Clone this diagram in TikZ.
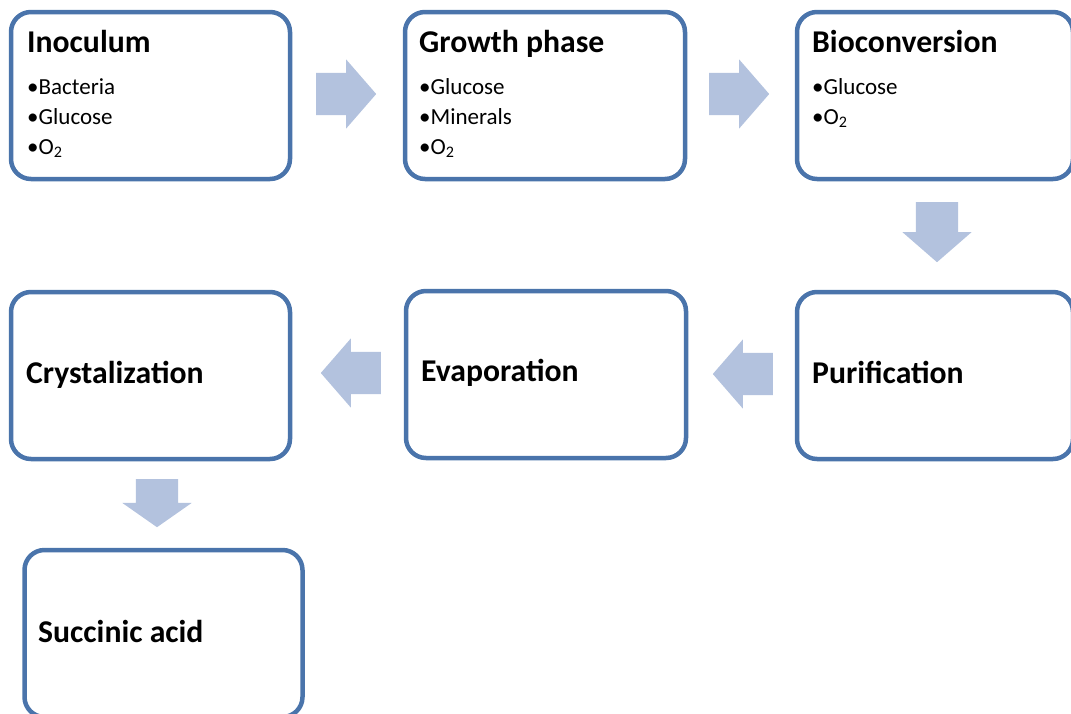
\documentclass[tikz,border=0pt]{standalone}
\usepackage{fontspec}
\setmainfont{Carlito}
\usetikzlibrary{shapes.arrows}

\definecolor{boxblue}{RGB}{74,116,171}
\definecolor{arrowblue}{RGB}{179,194,222}

\tikzset{
    stage/.style={draw=boxblue, line width=4.5pt, rounded corners=20pt,
        fill=white, minimum width=279pt, minimum height=167pt},
    stagename/.style={anchor=base west, inner sep=0pt,
        font=\fontsize{31.7}{37}\selectfont\bfseries},
    item/.style={anchor=base west, inner sep=0pt,
        font=\fontsize{23}{27}\selectfont},
    blockarrow/.style={single arrow, fill=arrowblue, draw=none,
        inner xsep=0pt, inner ysep=21pt, minimum height=60pt,
        single arrow head extend=13.5pt, single arrow tip angle=98,
        anchor=tail}
}

\begin{document}
\begin{tikzpicture}[x=1pt,y=-1pt]
                \useasboundingbox (0,0) rectangle (1071,713);
                % first row
                \node [stage] (inoculum) at (150.5, 95.5) {};
                \node [stage, minimum width=280pt] (growth) at (545, 95.5) {};
                \node [stage, minimum width=276pt] (bioconv) at (935, 95.5) {};
                % second row
                \node [stage] (crystal) at (150.5, 375.5) {};
                \node [stage, minimum width=280pt] (evap) at (546, 374.5) {};
                \node [stage, minimum width=276pt] (purif) at (935, 375.5) {};
                % last box
                \node [stage, minimum width=278pt] (succinic) at (163.5, 633.5) {};
                \node [stagename] (inoculum-t) at (27, 52) {Inoculum};
                \node [item] (inoculum-a) at (27, 94) {•Bacteria};
                \node [item] (inoculum-b) at (27, 124) {•Glucose};
                \node [item] (inoculum-c) at (27, 154) {•O\textsubscript{2}};
                \node [stagename] (growth-t) at (419, 52) {Growth phase};
                \node [item] (growth-a) at (419, 94) {•Glucose};
                \node [item] (growth-b) at (419, 124) {•Minerals};
                \node [item] (growth-c) at (419, 154) {•O\textsubscript{2}};
                \node [stagename] (bioconv-t) at (812, 52) {Bioconversion};
                \node [item] (bioconv-a) at (812, 94) {•Glucose};
                \node [item] (bioconv-b) at (812, 124) {•O\textsubscript{2}};
                \node [stagename] (crystal-t) at (26, 383) {Crystalization};
                \node [stagename] (evap-t) at (421, 381) {Evaporation};
                \node [stagename] (purif-t) at (812, 383) {Purification};
                \node [stagename] (succinic-t) at (38, 642) {Succinic acid};
                % arrows between the boxes
                \node [blockarrow] (arr1) at (316, 94) {};
                \node [blockarrow] (arr2) at (709, 94) {};
                \node [blockarrow, rotate=-90] (arr3) at (937, 202) {};
                \node [blockarrow, rotate=180] (arr4) at (773, 374) {};
                \node [blockarrow, rotate=180] (arr5) at (381, 373) {};
                \node [blockarrow, rotate=-90, minimum height=48pt,
                    single arrow tip angle=110] (arr6) at (157, 479) {};
\end{tikzpicture}
\end{document}
